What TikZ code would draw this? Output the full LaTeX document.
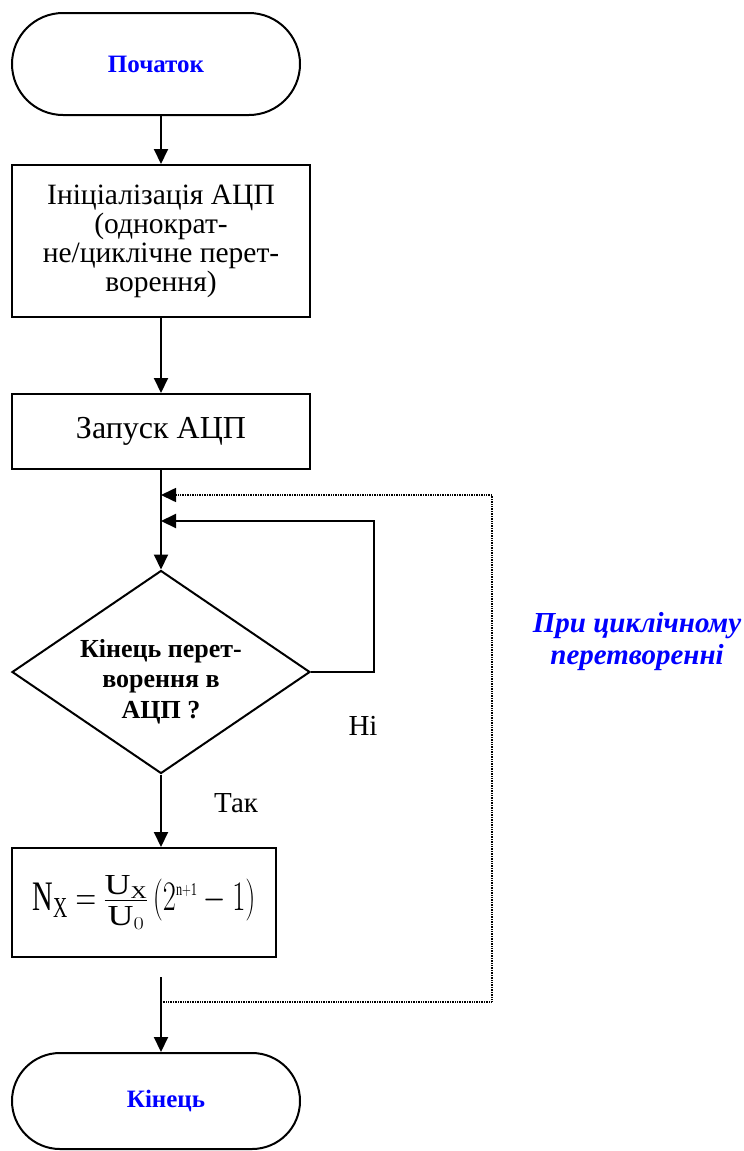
\documentclass[tikz,border=0pt]{standalone}
\usepackage{fix-cm}
\usepackage{graphicx}
\usepackage{fontspec}
\setmainfont{Liberation Serif}
\usetikzlibrary{arrows.meta,shapes.geometric,shapes.misc}
\DeclareMathSizes{42}{42}{29}{18}
\definecolor{tblue}{RGB}{0,0,255}
\begin{document}
\begin{tikzpicture}[x=1pt,y=-1pt,
  ln/.style={line width=2pt},
  arr/.style={line width=2pt,-{Triangle[width=14pt,length=15pt]}},
  dots/.style={line width=1.6pt,dash pattern=on 1pt off 0.7pt,-{Triangle[width=14pt,length=15pt]}},
  term/.style={draw,line width=2pt,rounded rectangle,minimum width=288pt,inner sep=0pt,
     font=\fontsize{25}{30}\selectfont\bfseries,text=tblue},
  proc/.style={draw,line width=2pt,rectangle,inner sep=0pt,align=center},
  dec/.style={draw,line width=2pt,diamond,minimum width=298pt,minimum height=203pt,inner sep=0pt},
  dectext/.style={align=center,inner sep=0pt,font=\fontsize{26}{30.5}\selectfont\bfseries},
  lbl/.style={anchor=base,inner sep=0pt,font=\fontsize{29}{30}\selectfont},
  note/.style={align=center,inner sep=0pt,text=tblue,font=\fontsize{29}{32}\selectfont\bfseries\itshape}
]
\useasboundingbox (0,0) rectangle (744,1151);

\node[term,minimum height=102pt] (start) at (156,64) {Початок};
\node[proc,minimum width=298pt,minimum height=152pt,font=\fontsize{29.5}{29}\selectfont] (init) at (161,241)
  {Ініціалізація АЦП\\(однократ-\\не/циклічне перет-\\ворення)};
\node[proc,minimum width=298pt,minimum height=75pt,font=\fontsize{32}{34}\selectfont] (run) at (161,431.5) {Запуск АЦП};
\node[dec] (check) at (161,672) {};
\node[dectext] (checktext) at (161,681.5) {Кінець перет-\\ворення в\\АЦП ?};
\node[proc,minimum width=264pt,minimum height=109pt,font=\fontsize{42}{50}\selectfont] (calc) at (144,902.5)
  {\scalebox{0.68}[1]{$\mathrm{N}_{\mathrm{X}}=$}\hspace{7pt}%
   \scalebox{1.24}[1]{$\frac{\mathrm{U}_{\mathrm{X}}}{\mathrm{U}_{0}}$}\hspace{4pt}%
   \scalebox{0.68}[1]{$(2^{\scriptscriptstyle\mathrm{n+1}}-1)$}};
\node[term,minimum height=96pt] (fin) at (156,1101) {\hspace*{20pt}Кінець};

\coordinate (joinA) at (161,521);
\coordinate (loopA) at (374,521);
\coordinate (sideA) at (374,672);
\coordinate (joinB) at (161,495);
\coordinate (loopB) at (492,495);
\coordinate (cornerB) at (492,1002);
\coordinate (startB) at (161,1002);
\coordinate (exitTop) at (161,977);

\draw[arr] (init.north |- start.south) -- (init.north);
\draw[arr] (init.south) -- (run.north);
\draw[arr] (run.south) -- (check.north);
\draw[arr] (check.south) -- (check.south |- calc.north);
\draw[arr] (exitTop) -- (exitTop |- fin.north);
\draw[arr] (check.east) -- (sideA) -- (loopA) -- (joinA);
\draw[dots] (startB) -- (cornerB) -- (loopB) -- (joinB);

\node[lbl] (no) at (363,735) {Ні};
\node[lbl] (yes) at (236,812) {Так};
\node[note] (cyc) at (637,642) {При циклічному\\перетворенні};
\end{tikzpicture}
\end{document}
